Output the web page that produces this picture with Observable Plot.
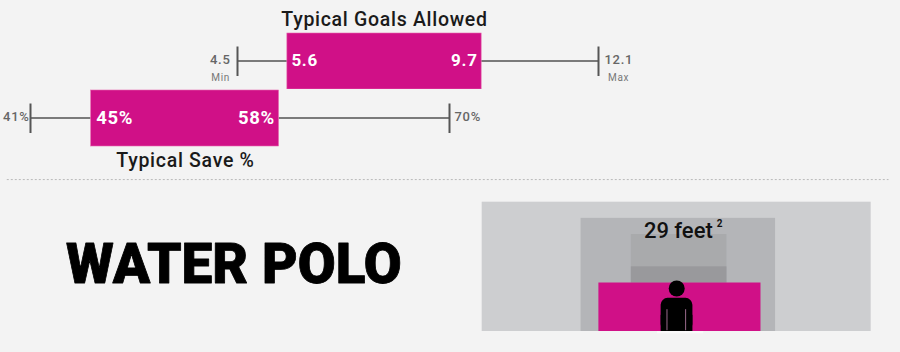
<!DOCTYPE html>
<html>
<head>
<meta charset="utf-8">
<script src="https://cdn.jsdelivr.net/npm/d3@7"></script>
<script src="https://cdn.jsdelivr.net/npm/@observablehq/plot@0.6"></script>
<style>
html,body{margin:0;padding:0;background:#f3f3f3;width:900px;height:352px;overflow:hidden}
#chart{position:relative;width:900px;height:352px}
#chart svg{position:absolute;left:0;background:transparent;font-family:Roboto,sans-serif}
.spaced text{letter-spacing:.7px}
</style>
</head>
<body>
<div id="chart"></div>
<script>
const pink = "#d01087";
const goalsTitle = "Typical Goals Allowed";
const goalsValues = [4.5, 5.55, 9.64, 12.1]; // min, typical low, typical high, max (bar ends)
const goalsLabels = ["4.5", "5.6", "9.7", "12.1"];
const saveTitle = "Typical Save %";
const saveValues = [41, 45.2, 58.2, 70];
const saveLabels = ["41%", "45%", "58%", "70%"];
const sportTitle = "WATER POLO";
const goalLabel = "29 feet";
// goal openings, in feet
const goalNames = ["outer", "middle", "inner", "innerLow", "waterPolo"];
const goalLeft  = [-12, -5.9, -2.8, -2.8, -4.8];
const goalRight = [ 12,  6.1,  3.1,  3.1,  5.2];
const goalBase  = [  0,  0,    0,    3,    0];
const goalTop   = [  8,  7,    6,    4,    3];
const goalFill  = ["#cdced0", "#b4b5b8", "#a9aaac", "#99999c", pink];

function range(values, labels, title, xRange, yRange, top, height, opts) {
  const [mn, lo, hi, mx] = values;
  const row = [{y: title}];
  const y = () => title;
  const plot = Plot.plot({
    width: 900, height, margin: 0,
    x: {axis: null, domain: [mn, mx], range: xRange},
    y: {axis: null, type: "band", domain: [title], range: yRange, padding: 0},
    marks: [
      Plot.ruleY(row, {y: "y", dy: -0.5, x1: () => mn, x2: () => lo, stroke: "#7a7a7a", strokeWidth: 2}),
      Plot.ruleY(row, {y: "y", dy: -0.5, x1: () => hi, x2: () => mx, stroke: "#7a7a7a", strokeWidth: 2}),
      Plot.tickX([mn, mx], {x: d => d, y, stroke: "#555", strokeWidth: 2, insetTop: 13.5, insetBottom: 13}),
      Plot.barX(row, {y: "y", x1: () => lo, x2: () => hi, fill: pink, stroke: "#e667ae", strokeWidth: 0.6}),
      Plot.text([labels[1]], {x: () => lo, y, text: d => d, dx: opts.inLo, dy: -0.5, textAnchor: "start", fill: "#fff", fontWeight: 700, fontSize: opts.inner}),
      Plot.text([labels[2]], {x: () => hi, y, text: d => d, dx: opts.inHi, dy: -0.5, textAnchor: "end", fill: "#fff", fontWeight: 700, fontSize: opts.inner}),
      Plot.text([labels[0]], {x: () => mn, y, text: d => d, dx: opts.minDx, dy: -1.5, textAnchor: "end", fill: "#666", fontWeight: 500, fontSize: opts.edge}),
      Plot.text([labels[3]], {x: () => mx, y, text: d => d, dx: opts.maxDx, dy: -1.5, textAnchor: "start", fill: "#666", fontWeight: 500, fontSize: opts.edge}),
      opts.minLabel ? Plot.text(["Min"], {x: () => mn, y, text: d => d, dx: -7.5, dy: 16, textAnchor: "end", fill: "#777", fontSize: 10}) : null,
      opts.minLabel ? Plot.text(["Max"], {x: () => mx, y, text: d => d, dx: 9.5, dy: 16, textAnchor: "start", fill: "#777", fontSize: 10}) : null,
      Plot.text([title], {frameAnchor: "left", y, text: d => d, dx: opts.titleX, dy: opts.titleDy, textAnchor: "middle", fill: "#1a1a1a", fontWeight: 500, fontSize: 19.5})
    ]
  });
  plot.classList.add("spaced");
  plot.style.top = top + "px";
  return plot;
}

const panelA = range(goalsValues, goalsLabels, goalsTitle, [237, 598], [33, 89], 0, 89,
  {inLo: 4, inHi: -4, minDx: -7, maxDx: 6, edge: 13, inner: 17, minLabel: true, titleX: 384, titleDy: -42});
const panelB = range(saveValues, saveLabels, saveTitle, [30, 449], [1, 57], 89, 90,
  {inLo: 5, inHi: -4, minDx: -1, maxDx: 5, edge: 13, inner: 18.5, minLabel: false, titleX: 185, titleDy: 42});

const goalRows = goalNames.map((name, i) => ({name, x1: goalLeft[i], x2: goalRight[i], y1: goalBase[i], y2: goalTop[i], fill: goalFill[i]}));
const panelC = Plot.plot({
  width: 900, height: 177, margin: 0,
  x: {axis: null, domain: [-12, 12], range: [481.7, 870.7]},
  y: {axis: null, domain: [0, 8], range: [156, 26.7]},
  marks: [
    Plot.ruleY([9.4], {x1: -41.3, x2: 13.1, stroke: "#b9b9b9", strokeDasharray: "2 2", strokeWidth: 1}),
    Plot.rect(goalRows, {x1: "x1", x2: "x2", y1: "y1", y2: "y2", fill: "fill"}),
    Plot.text([goalLabel], {x: () => 0.1, y: () => 6.22, text: d => d, fontSize: 22, fontWeight: 500, fill: "#111", textAnchor: "middle"}),
    Plot.text(["2"], {x: () => 2.65, y: () => 6.65, text: d => d, fontSize: 10, fontWeight: 700, fill: "#111"}),
    // swimmer silhouette
    Plot.dot([[0, 2.66]], {x: "0", y: "1", r: 8, fill: "#000"}),
    Plot.rect([{x1: -0.96, x2: 1.0, y1: 0, y2: 2.05}], {x1: "x1", x2: "x2", y1: "y1", y2: "y2", fill: "#000", rx: 7}),
    Plot.rect([{x1: -0.96, x2: 1.0, y1: 0, y2: 1}], {x1: "x1", x2: "x2", y1: "y1", y2: "y2", fill: "#000"}),
    Plot.ruleX([-0.6, 0.55], {y1: 0.05, y2: 1.35, stroke: "#9a6a8c", strokeWidth: 1}),
    Plot.rect([{x1: -1.18, x2: 1.66, y1: -0.14, y2: 0}], {x1: "x1", x2: "x2", y1: "y1", y2: "y2", fill: "#fafafa"}),
    Plot.text([sportTitle], {frameAnchor: "left", dx: 65.5, y: () => 4.08, text: d => d, fontSize: 55, fontWeight: 900, fill: "#000", stroke: "#000", strokeWidth: 0.8, textAnchor: "start"})
  ]
});
panelC.style.top = "175px";

document.getElementById("chart").append(panelA, panelB, panelC);
</script>
</body>
</html>
